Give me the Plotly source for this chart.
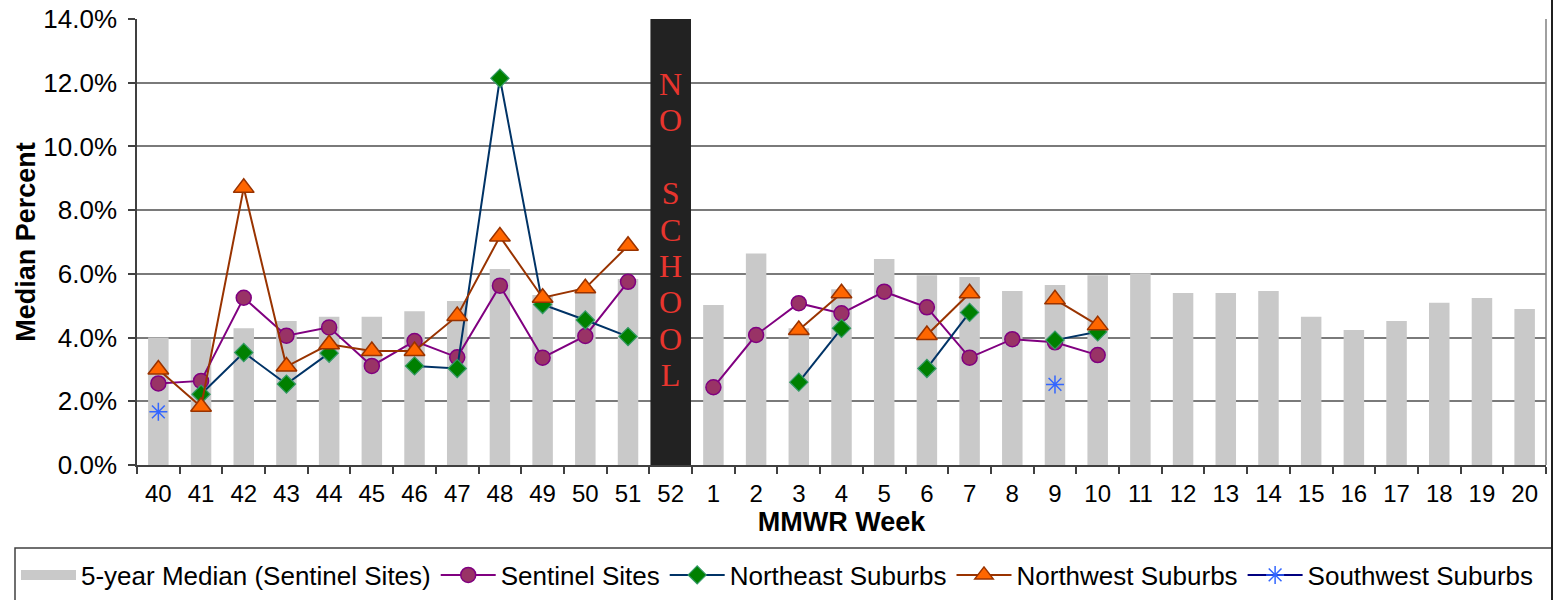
import plotly.graph_objects as go

weeks = ["40", "41", "42", "43", "44", "45", "46", "47", "48", "49", "50", "51", "52",
         "1", "2", "3", "4", "5", "6", "7", "8", "9", "10", "11", "12", "13", "14",
         "15", "16", "17", "18", "19", "20"]

median_5yr = [4.00, 3.95, 4.29, 4.52, 4.65, 4.65, 4.83, 5.15, 6.15, 5.34, 5.52, 5.84, None,
              5.02, 6.64, 4.29, 5.52, 6.47, 5.96, 5.90, 5.46, 5.65, 5.96, 6.02, 5.40, 5.40, 5.46,
              4.65, 4.24, 4.52, 5.09, 5.24, 4.90]

sentinel = [2.56, 2.64, 5.25, 4.06, 4.32, 3.11, 3.89, 3.38, 5.63, 3.37, 4.05, 5.75, None,
            2.44, 4.08, 5.08, 4.76, 5.44, 4.95, 3.37, 3.95, 3.85, 3.45] + [None] * 10

northeast = [None, 2.22, 3.53, 2.54, 3.51, None, 3.11, 3.03, 12.14, 5.04, 4.55, 4.03, None,
             None, None, 2.60, 4.29, None, 3.03, 4.79, None, 3.92, 4.18] + [None] * 10

northwest = [3.00, 1.83, 8.70, 3.09, 3.79, 3.58, 3.58, 4.68, 7.17, 5.25, 5.55, 6.88, None,
             None, None, 4.24, 5.39, None, 4.08, 5.39, None, 5.20, 4.39] + [None] * 10

southwest = [1.67, None, None, None, None, None, None, None, None, None, None, None, None,
             None, None, None, None, None, None, None, None, 2.53, None] + [None] * 10

no_school_week = ["52"]
no_school_value = [14.0]
no_school_letters = ["N", "O", "", "S", "C", "H", "O", "O", "L"]

FONT = "Liberation Sans, Arial, sans-serif"
BAR_GRAY = "#c9c9c9"

fig = go.Figure()

fig.add_trace(go.Bar(
    x=weeks, y=median_5yr, name="5-year Median (Sentinel Sites)",
    marker=dict(color=BAR_GRAY, line=dict(width=0)), width=0.48, showlegend=False,
))
# legend-only entry drawn as a wide grey swatch, like the original legend key
fig.add_trace(go.Scatter(
    x=[None], y=[None], name="5-year Median (Sentinel Sites)", mode="lines",
    line=dict(color=BAR_GRAY, width=15), showlegend=True,
))
fig.add_trace(go.Bar(
    x=no_school_week, y=no_school_value, name="No School",
    marker=dict(color="#222222", line=dict(width=0)), width=0.95, showlegend=False,
))
fig.add_trace(go.Scatter(
    x=weeks, y=sentinel, name="Sentinel Sites", mode="lines+markers",
    line=dict(color="#800080", width=2),
    marker=dict(symbol="circle", size=15, color="#993366", line=dict(color="#800080", width=1.5)),
))
fig.add_trace(go.Scatter(
    x=weeks, y=northeast, name="Northeast Suburbs", mode="lines+markers",
    line=dict(color="#003366", width=2),
    marker=dict(symbol="diamond", size=14, color="#008000", line=dict(color="#339966", width=1.2)),
))
fig.add_trace(go.Scatter(
    x=weeks, y=northwest, name="Northwest Suburbs", mode="lines+markers",
    line=dict(color="#993300", width=2),
    marker=dict(symbol="triangle-up", size=18, color="#ff6600", line=dict(color="#993300", width=1.5)),
))
fig.add_trace(go.Scatter(
    x=weeks, y=southwest, name="Southwest Suburbs", mode="lines+markers",
    line=dict(color="#000080", width=2),
    marker=dict(symbol="asterisk-open", size=15, color="#3366ff", line=dict(color="#3366ff", width=1.5)),
))

no_school_text = "<br>".join(
    f'<span style="font-size:32px">{c}</span>' if c else " " for c in no_school_letters
)
fig.add_annotation(
    x=weeks.index(no_school_week[0]), y=7.39, xref="x", yref="y", text=no_school_text, showarrow=False,
    font=dict(family="Liberation Serif, Times New Roman, serif", size=28, color="#e8352e"),
    align="center", xanchor="center", yanchor="middle",
)

PL, PR, PT, PB = 137, 1546, 19, 465
W = PR - PL
H = PB - PT

# plot-area right border, legend box, outer right edge
fig.add_shape(type="line", xref="paper", yref="paper", x0=1, x1=1, y0=0, y1=1,
              line=dict(color="#808080", width=1.5))
fig.add_shape(type="rect", xref="paper", yref="paper",
              x0=(15 - PL) / W, x1=(1552 - PL) / W,
              y0=(PB - 548) / H, y1=(PB - 620) / H,
              line=dict(color="#404040", width=1.5), fillcolor="rgba(0,0,0,0)")
fig.add_shape(type="line", xref="paper", yref="paper",
              x0=(1552 - PL) / W, x1=(1552 - PL) / W,
              y0=(PB + 10) / H, y1=(PB - 620) / H,
              line=dict(color="#202020", width=2))

fig.update_layout(
    width=1558, height=600,
    margin=dict(l=PL, r=1558 - PR, t=PT, b=600 - PB, autoexpand=False),
    paper_bgcolor="white", plot_bgcolor="white",
    barmode="overlay",
    font=dict(family=FONT, size=24, color="black"),
    showlegend=True,
    legend=dict(orientation="h", x=(16 - PL) / W, xanchor="left", y=(PB - 575) / H, yanchor="middle",
                font=dict(family=FONT, size=26, color="black"), bgcolor="rgba(0,0,0,0)",
                itemwidth=55, traceorder="normal"),
    xaxis=dict(
        type="category", categoryorder="array", categoryarray=weeks,
        range=[-0.5, len(weeks) - 0.5], automargin=False,
        tickson="boundaries", ticks="outside", ticklen=7, tickcolor="#404040", tickwidth=1.5,
        ticklabelstandoff=6,
        showline=True, linecolor="#404040", linewidth=1.5,
        showgrid=False,
        tickfont=dict(family=FONT, size=24, color="black"),
        title=dict(text="<b>MMWR Week</b>", font=dict(family=FONT, size=27, color="black"), standoff=3),
    ),
    yaxis=dict(
        range=[0, 14], dtick=2, tickformat=".1f", ticksuffix="%", automargin=False,
        ticks="outside", ticklen=7, tickcolor="#404040", tickwidth=1.5,
        ticklabelstandoff=6,
        showline=True, linecolor="#404040", linewidth=1.5,
        showgrid=True, gridcolor="#7a7a7a", gridwidth=2,
        zeroline=False,
        tickfont=dict(family=FONT, size=26, color="black"),
        title=dict(text="<b>Median Percent</b>", font=dict(family=FONT, size=27, color="black"), standoff=0),
    ),
)

fig.write_html("out.html", config={"displayModeBar": False},
               post_script="document.body.style.margin='0';")
